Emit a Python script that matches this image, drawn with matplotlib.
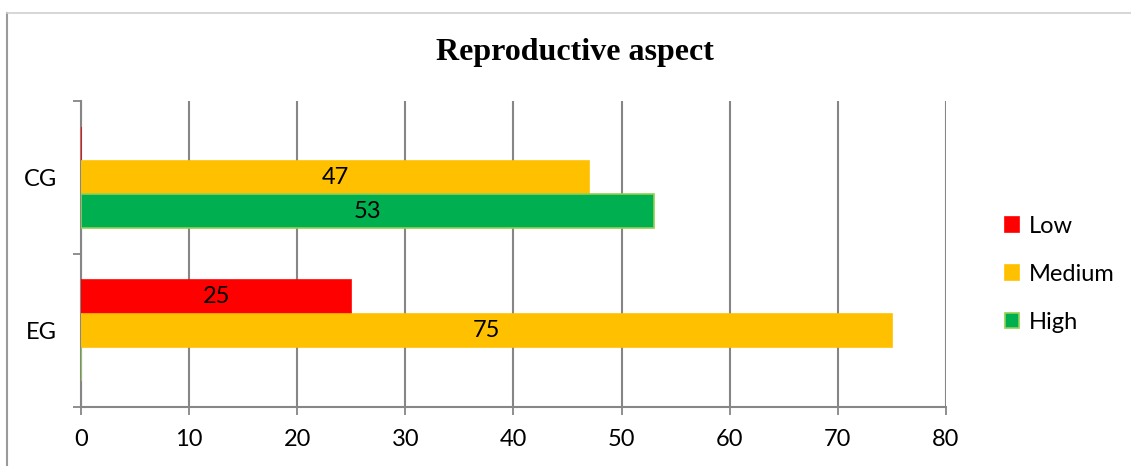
import matplotlib
matplotlib.use("Agg")
from matplotlib import pyplot as plt
from matplotlib.lines import Line2D
from matplotlib.patches import Patch
import numpy as np

groups = ["EG", "CG"]
series = ["Low", "Medium", "High"]
low = [25, 0]
medium = [75, 47]
high = [0, 53]
colors = ["#FF0000", "#FFC000", "#00B050"]
edges = ["#FF0000", "#FFC000", "#92D050"]
x_ticks = [0, 10, 20, 30, 40, 50, 60, 70, 80]

plt.rcParams['font.family'] = ['Lato', 'DejaVu Sans']
grid_col = "#868686"
fs = 17

fig = plt.figure(figsize=(11.31, 4.66), dpi=100)
ax = fig.add_axes([0.0716, 0.1266, 0.7648, 0.6567])

y = np.arange(len(groups))
h = 0.22
offsets = [h, 0.0, -h]
for vals, off, c, ec, name in zip([low, medium, high], offsets, colors, edges, series):
    bars = ax.barh(y + off, vals, height=h, color=c, edgecolor=ec, linewidth=1.2,
                   label=name, zorder=3)
    for b, v in zip(bars, vals):
        if v > 0:
            ax.text(v / 2, b.get_y() + b.get_height() / 2, str(v), ha="center", va="center",
                    fontsize=fs, color="black", zorder=4)

ax.set_xlim(0, 80)
ax.set_ylim(-0.5, 1.5)
ax.set_xticks(x_ticks)
ax.set_xticklabels([str(t) for t in x_ticks], fontsize=fs)
ax.set_yticks([-0.5, 0.5, 1.5])
ax.set_yticklabels([])
ax.set_yticks(y, minor=True)
ax.set_yticklabels(groups, minor=True, fontsize=fs)
ax.tick_params(axis="y", which="minor", length=0, pad=17)
ax.tick_params(axis="y", which="major", length=6, width=1.3, color=grid_col)
ax.tick_params(axis="x", length=6, width=1.3, color=grid_col, pad=10)

ax.xaxis.grid(True, color=grid_col, linewidth=1.5, zorder=0)
ax.set_axisbelow(True)
for s in ["top", "right"]:
    ax.spines[s].set_visible(False)
for s in ["left", "bottom"]:
    ax.spines[s].set_color(grid_col)
    ax.spines[s].set_linewidth(1.5)

fig.text(0.508, 0.888, "Reproductive aspect", ha="center", va="center",
         fontsize=23, fontweight="bold", family="Liberation Serif")

handles = [Patch(facecolor=c, edgecolor=ec, linewidth=1.2) for c, ec in zip(colors, edges)]
fig.legend(handles, series, loc="center left", bbox_to_anchor=(0.870, 0.411),
           frameon=False, fontsize=fs, handlelength=0.6, handleheight=0.6,
           handletextpad=0.4, labelspacing=1.15)

# outer chart border
fig.add_artist(Line2D([0.0062, 0.0062], [0.0, 0.972], color="#9a9a9a", linewidth=1.5,
                      transform=fig.transFigure))
fig.add_artist(Line2D([0.0062, 1.0], [0.972, 0.972], color="#d0d0d0", linewidth=1.2,
                      transform=fig.transFigure))

fig.savefig("out.png", dpi=100)
